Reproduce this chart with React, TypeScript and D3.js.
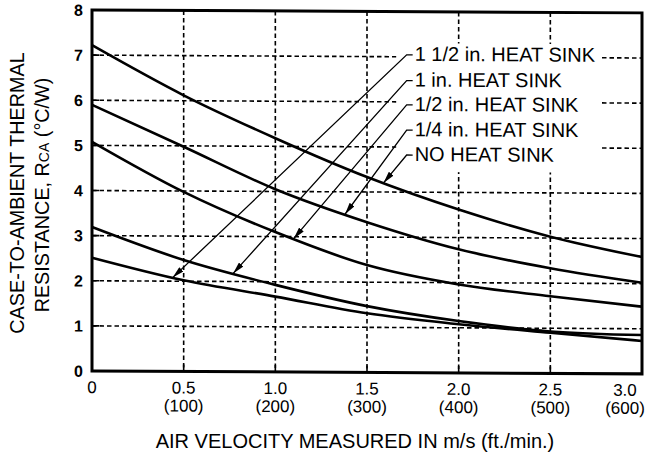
import React from "react";
import * as d3 from "d3";

// air velocity in m/s (x) and case-to-ambient resistance in °C/W (y)
const velocity = [0, 0.5, 1.0, 1.5, 2.0, 2.5, 3.0];
const noHeatSink = [7.22, 6.12, 5.18, 4.33, 3.62, 3.03, 2.59];
const quarterInch = [5.9, 4.98, 4.05, 3.33, 2.74, 2.33, 2.02];
const halfInch = [5.08, 3.98, 3.1, 2.38, 1.96, 1.71, 1.49];
const oneInch = [3.19, 2.47, 1.93, 1.47, 1.15, 0.93, 0.86];
const oneHalfInch = [2.51, 2.02, 1.67, 1.31, 1.08, 0.9, 0.73];

const xTicks = [0, 0.5, 1.0, 1.5, 2.0, 2.5, 3.0];
const xTickLabels = ["0", "0.5", "1.0", "1.5", "2.0", "2.5", "3.0"];
const xTickFeet = ["", "(100)", "(200)", "(300)", "(400)", "(500)", "(600)"];
const yTicks = [0, 1, 2, 3, 4, 5, 6, 7, 8];

// callouts: name, curve it points to, where the arrow lands, label baseline
const labelNames = ["1 1/2 in. HEAT SINK", "1 in. HEAT SINK", "1/2 in. HEAT SINK", "1/4 in. HEAT SINK", "NO HEAT SINK"];
const labelSeries = [oneHalfInch, oneInch, halfInch, quarterInch, noHeatSink];
const arrowAt = [0.44, 0.77, 1.1, 1.38, 1.59];
const labelRows = [6.91, 6.34, 5.8, 5.24, 4.69];
const labelX = 1.76;

const allSeries = [noHeatSink, quarterInch, halfInch, oneInch, oneHalfInch];

const W = 648;
const H = 455;
const FONT = "'Liberation Sans', Arial, Helvetica, sans-serif";

const App: React.FC = () => {
  const x = d3.scaleLinear().domain([0, 3]).range([92, 642]);
  const y = d3.scaleLinear().domain([0, 8]).range([371, 10]);

  const line = d3
    .line<number>()
    .x((_, i) => x(velocity[i]))
    .y((d) => y(d))
    .curve(d3.curveMonotoneX);

  const x0 = x(0);
  const y0 = y(0);
  const grid = { stroke: "#000", strokeWidth: 1.6, strokeDasharray: "4.5 3" };

  return (
    <svg
      width={W}
      height={H}
      style={{ position: "absolute", left: 0, top: 0, background: "#fff" }}
      fontFamily={FONT}
    >
      <defs>
        <marker
          id="arrow"
          viewBox="0 0 12 6"
          refX={12}
          refY={3}
          markerWidth={12}
          markerHeight={6}
          markerUnits="userSpaceOnUse"
          orient="auto"
        >
          <path d="M0,0 L12,3 L0,6 z" fill="#000" />
        </marker>
      </defs>

      {/* scan is slightly tilted: right side sits a few px lower */}
      <g transform={`translate(${x0},0) skewY(0.3) translate(${-x0},0)`}>
        {/* grid */}
        {yTicks.slice(1, -1).map((t) => (
          <line key={"gy" + t} x1={x0} x2={x(3)} y1={y(t)} y2={y(t)} {...grid} />
        ))}
        {xTicks.slice(1, -1).map((t) => (
          <line key={"gx" + t} x1={x(t)} x2={x(t)} y1={y(8)} y2={y0} {...grid} />
        ))}
        {/* inward ticks */}
        {yTicks.map((t) => (
          <line key={"ty" + t} x1={x0} x2={x0 + 7} y1={y(t)} y2={y(t)} stroke="#000" strokeWidth={1.6} />
        ))}
        {xTicks.map((t) => (
          <line key={"tx" + t} x1={x(t)} x2={x(t)} y1={y0} y2={y0 - 7} stroke="#000" strokeWidth={1.6} />
        ))}

        {/* clear the grid behind the callout text */}
        <rect x={x(1.66)} y={y(7.3)} width={x(2.77) - x(1.66)} height={y(4.45) - y(7.3)} fill="#fff" />

        {/* curves */}
        {allSeries.map((s, i) => (
          <path key={"c" + i} d={line(s) ?? ""} fill="none" stroke="#000" strokeWidth={2.6} />
        ))}

        {/* callouts */}
        {labelNames.map((name, i) => {
          const interp = d3.scaleLinear().domain(velocity).range(labelSeries[i]);
          const tx = x(arrowAt[i]);
          const ty = y(interp(arrowAt[i]));
          const lx = x(labelX);
          const ly = y(labelRows[i]);
          return (
            <g key={"l" + i}>
              <path
                d={`M${lx - 2},${ly - 6} L${lx - 8},${ly - 6} L${tx},${ty}`}
                fill="none"
                stroke="#000"
                strokeWidth={1.3}
                markerEnd="url(#arrow)"
              />
              <text x={lx} y={ly} fontSize={20}>
                {name}
              </text>
            </g>
          );
        })}

        {/* frame */}
        <rect x={x0} y={y(8)} width={x(3) - x0} height={y0 - y(8)} fill="none" stroke="#000" strokeWidth={3} />

        {/* y tick labels */}
        {yTicks.map((t) => (
          <text
            key={"yl" + t}
            x={83}
            y={y(t)}
            dy="0.36em"
            textAnchor="end"
            fontSize={16}
            fontWeight="bold"
          >
            {t}
          </text>
        ))}

        {/* x tick labels */}
        {xTicks.map((t, i) => {
          const shift = i === xTicks.length - 1 ? -17 : 0;
          return (
            <g key={"xl" + t}>
              <text x={x(t) + shift} y={393} textAnchor="middle" fontSize={17}>
                {xTickLabels[i]}
              </text>
              <text x={x(t) + shift} y={411} textAnchor="middle" fontSize={17}>
                {xTickFeet[i]}
              </text>
            </g>
          );
        })}
      </g>

      {/* axis titles */}
      <text transform="translate(24,193) rotate(-90)" textAnchor="middle" fontSize={19.8}>
        CASE-TO-AMBIENT THERMAL
      </text>
      <text transform="translate(49,195) rotate(-90)" textAnchor="middle" fontSize={19.8}>
        RESISTANCE, R<tspan fontSize={14}>CA</tspan> (°C/W)
      </text>
      <text x={355} y={448} textAnchor="middle" fontSize={20}>
        AIR VELOCITY MEASURED IN m/s (ft./min.)
      </text>
    </svg>
  );
};

export default App;
